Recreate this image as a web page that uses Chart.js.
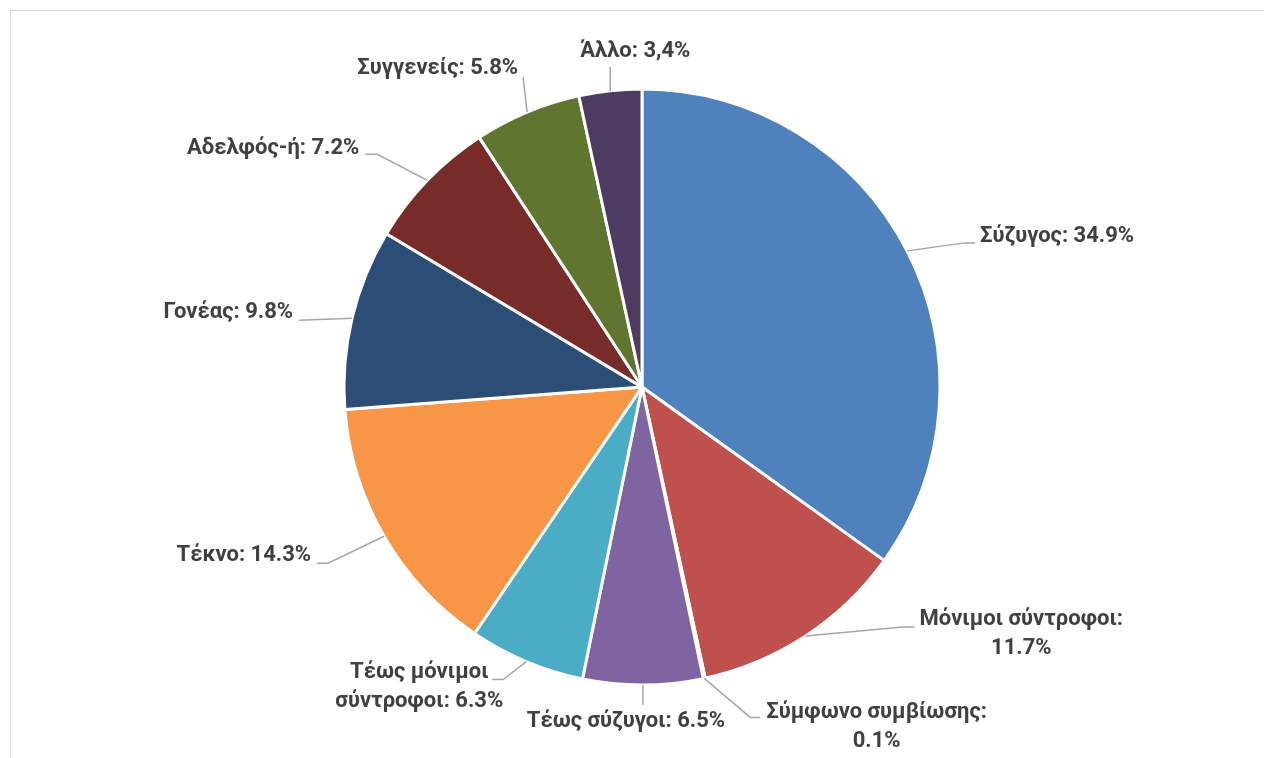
<!DOCTYPE html>
<html>
<head>
<meta charset="utf-8">
<script src="https://cdn.jsdelivr.net/npm/chart.js@4/dist/chart.umd.min.js"></script>
<style>
  html, body { margin: 0; padding: 0; background: #fff; overflow: hidden; }
  #wrap { position: relative; width: 1264px; height: 758px; }
  #frame { position: absolute; left: 10px; top: 10px; width: 1400px; height: 900px; border: 1px solid #d9d9d9; box-sizing: border-box; }
  canvas { position: absolute; left: 0; top: 0; }
</style>
</head>
<body>
<div id="wrap">
  <div id="frame"></div>
  <canvas id="myChart" width="1264" height="758"></canvas>
</div>
<script>
const categories = ['Σύζυγος', 'Μόνιμοι σύντροφοι', 'Σύμφωνο συμβίωσης', 'Τέως σύζυγοι', 'Τέως μόνιμοι σύντροφοι',
                    'Τέκνο', 'Γονέας', 'Αδελφός-ή', 'Συγγενείς', 'Άλλο'];
const values = [34.9, 11.7, 0.1, 6.5, 6.3, 14.3, 9.8, 7.2, 5.8, 3.4];
const valueLabels = ['34.9%', '11.7%', '0.1%', '6.5%', '6.3%', '14.3%', '9.8%', '7.2%', '5.8%', '3,4%'];
const colors = ['#4F81BD', '#C0504D', '#9BBB59', '#8064A2', '#4BACC6', '#F79646', '#2C4D75', '#772C2A', '#5F7530', '#4D3B62'];

// label placement, relative to the point where the leader leaves the slice edge
// knee: leader bend, tail: horizontal stub after the bend, align: side of text block at (tx, ty)
const labelLayout = [
  { knee: [58, -8],  tail: 10,  align: 'left',   tx: 73,   ty: -14, breakAt: 0 },
  { knee: [97, -9],  tail: 12,  align: 'left',   tx: 114,  ty: -2,  breakAt: 2 },
  { knee: [46, 39],  tail: 10,  align: 'left',   tx: 62,   ty: 49,  breakAt: 2 },
  { knee: [0, 20],   tail: 0,   align: 'center', tx: -17,  ty: 37,  breakAt: 0 },
  { knee: [-23, 18], tail: -11, align: 'right',  tx: -23,  ty: 25,  breakAt: 2 },
  { knee: [-56, 27], tail: -11, align: 'right',  tx: -73,  ty: 19,  breakAt: 0 },
  { knee: [-53, 2],  tail: 0,   align: 'right',  tx: -59,  ty: -6,  breakAt: 0 },
  { knee: [-50, -26],tail: -12, align: 'right',  tx: -68,  ty: -32, breakAt: 0 },
  { knee: [-4, -35], tail: 0,   align: 'right',  tx: -9,   ty: -44, breakAt: 0 },
  { knee: [0, -24],  tail: 0,   align: 'center', tx: 25,   ty: -39, breakAt: 0 }
];

const FONT = 'bold 22px Roboto';
const LINE_H = 29;

const outsideLabels = {
  id: 'outsideLabels',
  afterDatasetsDraw(chart) {
    const ctx = chart.ctx;
    const arcs = chart.getDatasetMeta(0).data;
    ctx.save();
    ctx.font = FONT;
    ctx.textBaseline = 'middle';
    arcs.forEach((arc, i) => {
      const p = arc.getProps(['x', 'y', 'startAngle', 'endAngle', 'outerRadius'], true);
      const mid = (p.startAngle + p.endAngle) / 2;
      const sx = p.x + Math.cos(mid) * p.outerRadius;
      const sy = p.y + Math.sin(mid) * p.outerRadius;
      const L = labelLayout[i];
      const kx = sx + L.knee[0], ky = sy + L.knee[1];

      ctx.strokeStyle = '#a6a6a6';
      ctx.lineWidth = 1.5;
      ctx.beginPath();
      ctx.moveTo(sx, sy);
      ctx.lineTo(kx, ky);
      if (L.tail) ctx.lineTo(kx + L.tail, ky);
      ctx.stroke();

      const words = (categories[i] + ': ' + valueLabels[i]).split(' ');
      const lines = L.breakAt ? [words.slice(0, L.breakAt).join(' '), words.slice(L.breakAt).join(' ')] : [words.join(' ')];
      const widths = lines.map(t => ctx.measureText(t).width);
      const bw = Math.max(...widths);
      let cx = sx + L.tx;
      if (L.align === 'left') cx += bw / 2;
      if (L.align === 'right') cx -= bw / 2;
      const cy = sy + L.ty;
      ctx.fillStyle = '#404040';
      ctx.textAlign = 'center';
      lines.forEach((t, j) => {
        ctx.fillText(t, cx, cy + (j - (lines.length - 1) / 2) * LINE_H);
      });
    });
    ctx.restore();
  }
};

const myChart = new Chart(document.getElementById('myChart').getContext('2d'), {
  type: 'pie',
  data: {
    labels: categories,
    datasets: [{
      data: values,
      backgroundColor: colors,
      borderColor: '#ffffff',
      borderWidth: 3
    }]
  },
  options: {
    responsive: false,
    animation: false,
    radius: 298,
    layout: { padding: { left: 20, top: 16 } },
    plugins: {
      legend: { display: false },
      tooltip: { enabled: false }
    }
  },
  plugins: [outsideLabels]
});
</script>
</body>
</html>
